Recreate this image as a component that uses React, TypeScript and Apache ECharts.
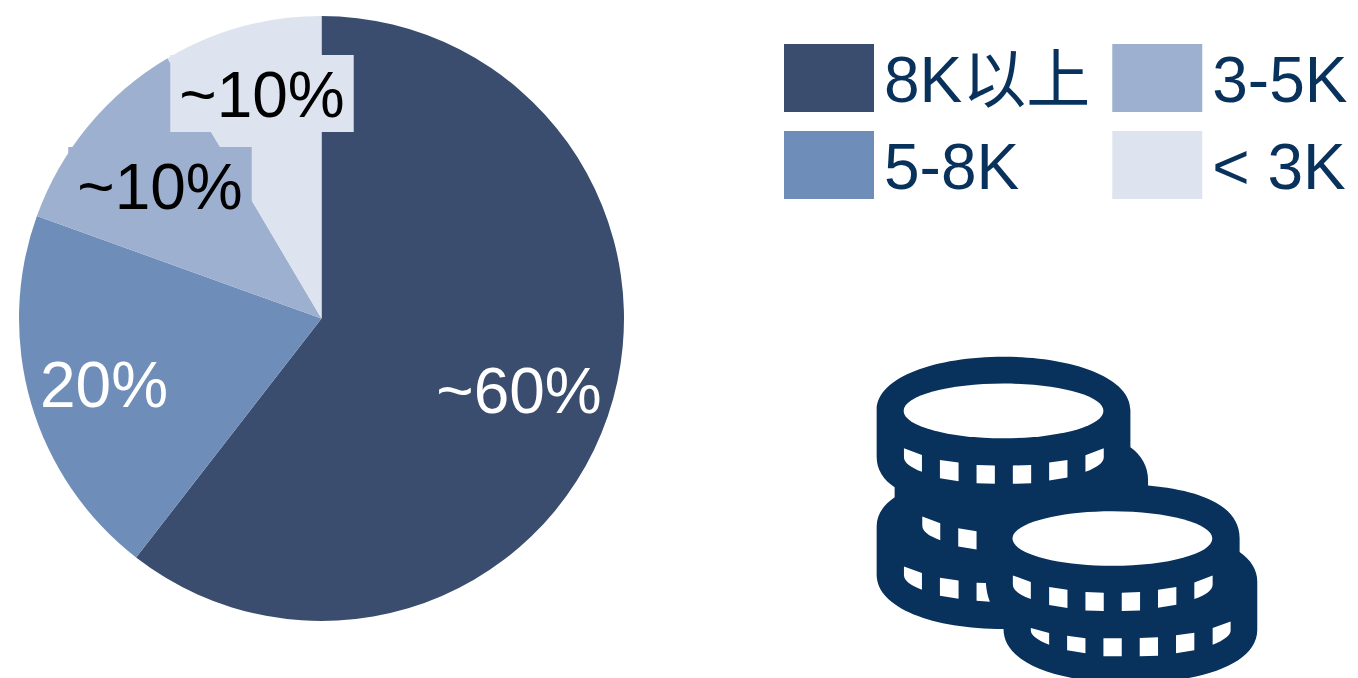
import React, { useEffect, useRef } from "react";
import * as echarts from "echarts";

// Salary bands, their approximate shares and the printed share labels
const bands = ["8K以上", "5-8K", "3-5K", "< 3K"];
const shares = [60.5, 20, 11, 8.5];
const shareLabels = ["~60%", "20%", "~10%", "~10%"];
const bandColors = ["#3a4d6e", "#6f8db9", "#9db0cf", "#dee4ef"];
const labelColors = ["#ffffff", "#ffffff", "#000000", "#000000"];
const labelBoxes = ["transparent", "transparent", "#9db0cf", "#dee4ef"];
const labelCentres = [
  [519, 389],
  [104, 383],
  [160, 185.5],
  [262, 93.5],
];

const NAVY = "#08315b";
const FONT = '"Liberation Sans", "Noto Sans CJK SC", sans-serif';

// Coin stack icon, drawn on a 3x grid and scaled down when placed
const coinOutline =
  "M50,210 C50,110 230,50 431,50 C632,50 812,110 812,210 L812,322 C845,345 865,380 865,420 L865,437 " +
  "C1030,452 1140,500 1140,595 L1140,637 C1173,660 1193,690 1193,725 L1193,870 C1193,975 1020,1030 812,1030 " +
  "C604,1030 431,975 431,868 C220,868 50,805 50,705 L50,560 C50,525 70,495 104,472 L104,442 C70,420 50,390 50,350 Z";

const coinNotches =
  // top coin rim
  "M132,325 L186,345 L186,396 Q132,375 132,352 Z M240,360 L296,368 L296,424 L240,415 Z " +
  "M350,375 L405,377 L405,432 L350,430 Z M459,377 L514,375 L514,430 L459,432 Z " +
  "M568,368 L623,360 L623,413 L568,422 Z M677,346 L732,325 L732,352 Q732,375 677,396 Z " +
  // middle coin rim
  "M187,530 L241,550 L241,601 Q187,582 187,557 Z M295,565 L350,574 L350,629 L295,620 Z " +
  // bottom left coin rim
  "M132,680 L186,700 L186,750 Q132,730 132,706 Z M240,714 L296,722 L296,777 L240,768 Z " +
  "M350,729 L378,730 Q380,762 390,786 L350,783 Z " +
  // front coin rim
  "M459,707 L513,727 L513,778 Q459,758 459,734 Z M568,742 L623,750 L623,805 L568,796 Z " +
  "M677,757 L732,759 L732,814 L677,812 Z M786,759 L841,757 L841,812 L786,814 Z " +
  "M895,750 L950,742 L950,795 L895,804 Z M1004,728 L1059,707 L1059,734 Q1059,758 1004,778 Z " +
  // bottom right coin rim
  "M513,865 L568,880 L568,915 Q513,893 513,872 Z M622,888 L677,896 L677,941 L622,932 Z " +
  "M731,896 L786,896 L786,950 L731,950 Z M840,895 L895,893 L895,948 L840,950 Z " +
  "M949,887 L1004,879 L1004,932 L949,941 Z M1059,865 L1113,845 L1113,872 Q1113,893 1059,915 Z";

echarts.graphic.registerShape("coinOutline", echarts.graphic.extendPath(coinOutline, {}));
echarts.graphic.registerShape("coinNotches", echarts.graphic.extendPath(coinNotches, {}));

export default function App() {
  const ref = useRef<HTMLDivElement>(null);

  useEffect(() => {
    const chart = echarts.init(ref.current!, null, { renderer: "svg" });
    chart.setOption({
      animation: false,
      backgroundColor: "#ffffff",
      legend: {
        orient: "vertical",
        left: 784,
        top: 44,
        height: 180,
        padding: 0,
        itemWidth: 90,
        itemHeight: 68,
        itemGap: 19,
        selectedMode: false,
        itemStyle: { borderWidth: 0 },
        data: bands.map((name) => ({ name, icon: "rect" })),
        formatter: (name: string) => `{t|${name}}`,
        textStyle: {
          color: NAVY,
          fontSize: 64,
          fontFamily: FONT,
          rich: {
            t: {
              color: NAVY,
              fontSize: 64,
              fontFamily: FONT,
              lineHeight: 56,
              padding: [4, 3, 0, 5],
            },
          },
        },
      },
      series: [
        {
          type: "pie",
          center: [321.5, 318.5],
          radius: [0, 302.5],
          startAngle: 90,
          clockwise: true,
          silent: true,
          itemStyle: { borderWidth: 0 },
          labelLine: { show: false },
          label: { show: true, position: "inside", fontSize: 64, fontFamily: FONT },
          labelLayout: (p: { dataIndex: number }) => ({
            x: labelCentres[p.dataIndex][0],
            y: labelCentres[p.dataIndex][1],
            align: "center",
            verticalAlign: "middle",
          }),
          data: bands.map((name, i) => ({
            name,
            value: shares[i],
            itemStyle: { color: bandColors[i] },
            label: {
              formatter: `{t|${shareLabels[i]}}`,
              backgroundColor: labelBoxes[i],
              padding: [6, 9, 7, 9],
              rich: {
                t: {
                  color: labelColors[i],
                  fontSize: 64,
                  fontFamily: FONT,
                  lineHeight: 64,
                  padding: [4, 0, 0, 0],
                },
              },
            },
          })),
        },
      ],
      graphic: [
        {
          type: "group",
          x: 860,
          y: 340,
          scaleX: 1 / 3,
          scaleY: 1 / 3,
          children: [
            { type: "coinOutline", style: { fill: NAVY } },
            { type: "coinNotches", style: { fill: "#ffffff" } },
            { type: "ellipse", shape: { cx: 431, cy: 213, rx: 300, ry: 82 }, style: { fill: "#ffffff" } },
            { type: "ellipse", shape: { cx: 758, cy: 596, rx: 300, ry: 82 }, style: { fill: "#ffffff" } },
          ],
        },
      ],
    });
    return () => chart.dispose();
  }, []);

  return <div ref={ref} style={{ position: "absolute", left: 0, top: 0, width: 1358, height: 678, overflow: "hidden" }} />;
}
